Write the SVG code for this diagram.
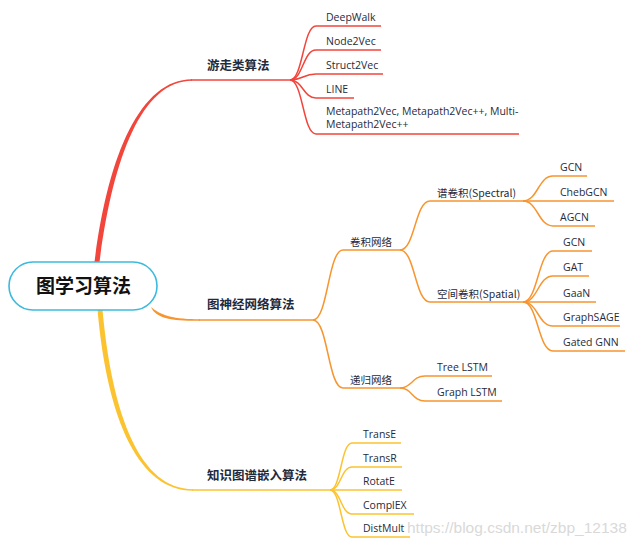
<svg xmlns="http://www.w3.org/2000/svg" width="634" height="546" viewBox="0 0 634 546">
<style>
.t{font-family:"Open Sans","Noto Sans CJK SC",sans-serif;font-size:10.5px;fill:#1f2b3c}
.c{font-family:"Noto Sans CJK SC","Noto Sans",sans-serif;font-size:10.5px;fill:#1f2b3c}
.m{font-family:"Noto Sans CJK SC","Noto Sans",sans-serif;font-size:12.5px;font-weight:700;fill:#1f2b3c}
.r{fill:none;stroke:#f2453b;stroke-width:1.5}
.o{fill:none;stroke:#f7952f;stroke-width:1.5}
.y{fill:none;stroke:#fcc330;stroke-width:1.5}
.wm{font-family:"Liberation Sans",Arial,sans-serif;font-size:15.5px;fill:#d9d9d9}
</style>
<rect width="634" height="546" fill="#ffffff"/>
<g id="connectors">
  <!-- main branches -->
  <path d="M94.5,262 C107.5,158 139.5,79.2 192,79.2 L192,80.8 C140.5,80.8 112.5,162 99.5,262 Z" fill="#f2453b"/>
  <path class="r" d="M191,80 H290"/>
  <path d="M146,302 C159,317 176,319.2 200,319.2 L200,320.8 C174,321 156,319 151,307 Z" fill="#f7952f"/>
  <path class="o" d="M199,320 H313"/>
  <path d="M97.5,310 C107.5,422 139.5,490.8 193,490.8 L193,489.2 C141,489.2 112.5,418 102.5,310 Z" fill="#fcc330"/>
  <path class="y" d="M192,490 H330"/>
  <!-- red children -->
  <path class="r" d="M290,80 C303,80 303,26 316,26 H381"/>
  <path class="r" d="M290,80 C303,80 303,50 316,50 H381"/>
  <path class="r" d="M290,80 C303,80 303,74 316,74 H383"/>
  <path class="r" d="M290,80 C303,80 303,98 316,98 H354"/>
  <path class="r" d="M290,80 C303,80 303,134 316,134 H519"/>
  <!-- orange -->
  <path class="o" d="M313,320 C328,320 328,250 343,250 H400"/>
  <path class="o" d="M313,320 C328,320 328,388 343,388 H400"/>
  <path class="o" d="M400,250 C415,250 415,201 430,201 H523"/>
  <path class="o" d="M400,250 C415,250 415,302 430,302 H523"/>
  <path class="o" d="M523,201 C538,201 538,176 553,176 H587"/>
  <path class="o" d="M523,201 H614"/>
  <path class="o" d="M523,201 C538,201 538,226 553,226 H595"/>
  <path class="o" d="M523,302 C538,302 538,251 553,251 H592"/>
  <path class="o" d="M523,302 C538,302 538,276 553,276 H589"/>
  <path class="o" d="M523,302 H596"/>
  <path class="o" d="M523,302 C538,302 538,326 553,326 H620"/>
  <path class="o" d="M523,302 C538,302 538,351 553,351 H625"/>
  <path class="o" d="M400,388 C412,388 412,376 425,376 H492"/>
  <path class="o" d="M400,388 C412,388 412,401 425,401 H502"/>
  <!-- yellow children -->
  <path class="y" d="M330,490 C341,490 341,443 352,443 H401"/>
  <path class="y" d="M330,490 C341,490 341,467 352,467 H402"/>
  <path class="y" d="M330,490 H402"/>
  <path class="y" d="M330,490 C341,490 341,514 352,514 H414"/>
  <path class="y" d="M330,490 C341,490 341,537 352,537 H410"/>
</g>
<g id="root">
  <rect x="9" y="262" width="148" height="48" rx="24" ry="24" fill="#ffffff" stroke="#3cbadd" stroke-width="1.6"/>
  <text x="83.5" y="292.5" text-anchor="middle" style="font-family:'Noto Sans CJK SC',sans-serif;font-size:19px;font-weight:700;fill:#111">图学习算法</text>
</g>
<g id="walk"><text class="m" x="207" y="69.5">游走类算法</text></g>
<g id="deepwalk"><text class="t" x="326" y="20.5">DeepWalk</text></g>
<g id="node2vec"><text class="t" x="326" y="44.5">Node2Vec</text></g>
<g id="struct2vec"><text class="t" x="326" y="68.5">Struct2Vec</text></g>
<g id="line"><text class="t" x="326" y="92.5">LINE</text></g>
<g id="metapath"><text class="t" x="326" y="114.5">Metapath2Vec, Metapath2Vec++, Multi-</text><text class="t" x="326" y="128">Metapath2Vec++</text></g>
<g id="gnn"><text class="m" x="207" y="308.5">图神经网络算法</text></g>
<g id="conv"><text class="c" x="350" y="246">卷积网络</text></g>
<g id="spectral"><text class="c" x="437" y="196.5">谱卷积(Spectral)</text></g>
<g id="gcn1"><text class="t" x="560" y="170.5">GCN</text></g>
<g id="chebgcn"><text class="t" x="560" y="195.5">ChebGCN</text></g>
<g id="agcn"><text class="t" x="560" y="220.5">AGCN</text></g>
<g id="spatial"><text class="c" x="437" y="297.5">空间卷积(Spatial)</text></g>
<g id="gcn2"><text class="t" x="563" y="245.5">GCN</text></g>
<g id="gat"><text class="t" x="563" y="270.5">GAT</text></g>
<g id="gaan"><text class="t" x="563" y="296.5">GaaN</text></g>
<g id="graphsage"><text class="t" x="563" y="320.5">GraphSAGE</text></g>
<g id="gatedgnn"><text class="t" x="563" y="345.5">Gated GNN</text></g>
<g id="recur"><text class="c" x="350" y="383.5">递归网络</text></g>
<g id="treelstm"><text class="t" x="437" y="370.5">Tree LSTM</text></g>
<g id="graphlstm"><text class="t" x="437" y="395.5">Graph LSTM</text></g>
<g id="kge"><text class="m" x="207" y="479.5">知识图谱嵌入算法</text></g>
<g id="transe"><text class="t" x="363" y="437.5">TransE</text></g>
<g id="transr"><text class="t" x="363" y="461.5">TransR</text></g>
<g id="rotate"><text class="t" x="363" y="484.5">RotatE</text></g>
<g id="complex"><text class="t" x="363" y="508.5">ComplEX</text></g>
<g id="distmult"><text class="t" x="363" y="531.5">DistMult</text></g>
<text class="wm" x="407" y="533">https://blog.csdn.net/zbp_12138</text>
</svg>
